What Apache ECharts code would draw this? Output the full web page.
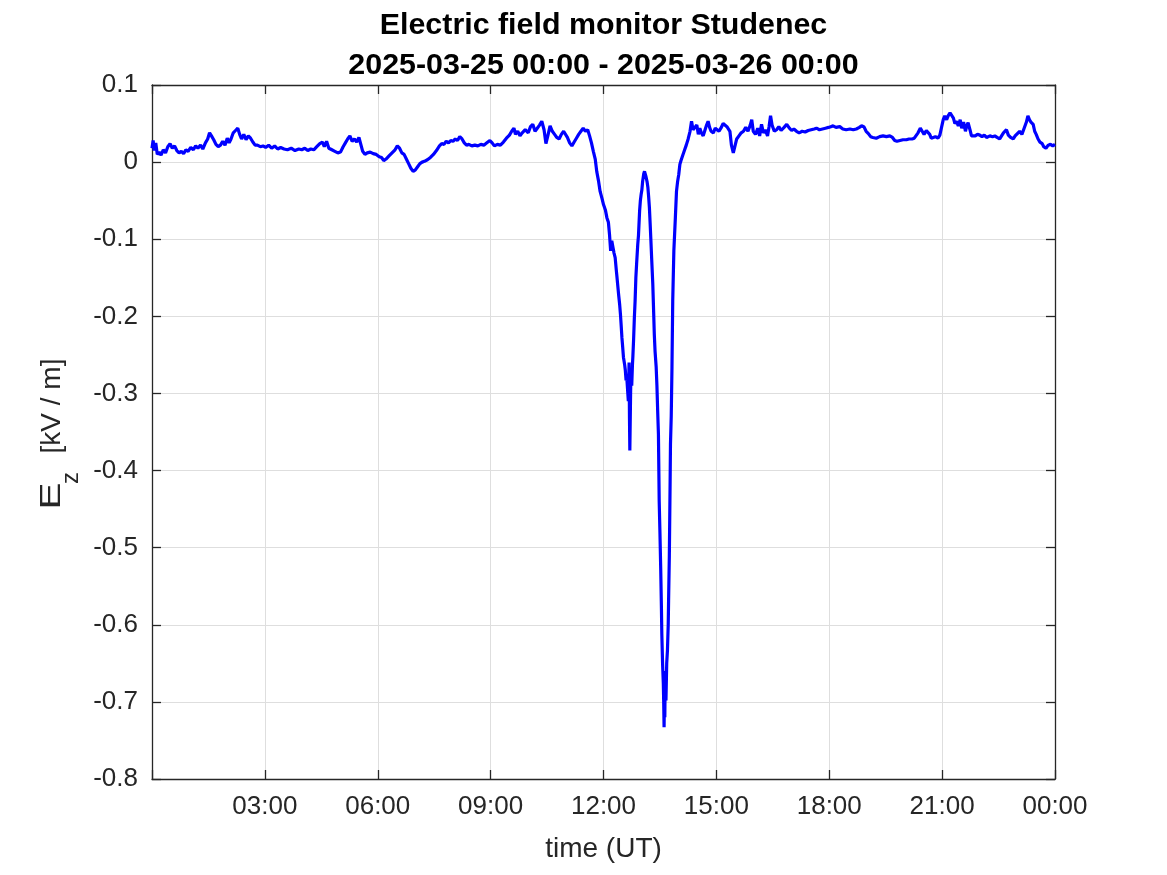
<!DOCTYPE html>
<html>
<head>
<meta charset="utf-8">
<script src="https://cdn.jsdelivr.net/npm/echarts@6/dist/echarts.min.js"></script>
<style>html,body{margin:0;padding:0;background:#fff}#c{width:1167px;height:875px}</style>
</head>
<body>
<div id="c"></div>
<script>
var titleLine1 = 'Electric field monitor Studenec';
var titleLine2 = '2025-03-25 00:00 - 2025-03-26 00:00';
var xLabel = 'time (UT)';
var xTickHours = [0, 3, 6, 9, 12, 15, 18, 21, 24];
var yTicks = [0.1, 0, -0.1, -0.2, -0.3, -0.4, -0.5, -0.6, -0.7, -0.8];

var hours = [
0.00,0.03,0.06,0.10,0.14,0.19,0.24,0.30,0.36,0.42,0.48,0.54,0.60,0.66,0.72,0.78,0.84,0.90,0.96,1.03,
1.10,1.16,1.22,1.29,1.35,1.42,1.48,1.53,1.58,1.64,1.70,1.76,1.82,1.88,1.94,2.00,2.05,2.10,2.16,2.22,
2.28,2.33,2.38,2.44,2.50,2.56,2.62,2.68,2.74,2.80,2.88,2.95,3.02,3.10,3.18,3.26,3.34,3.42,3.51,3.60,
3.70,3.80,3.90,3.98,4.06,4.14,4.22,4.30,4.38,4.46,4.53,4.58,4.64,4.70,4.78,4.86,4.94,5.01,5.08,5.14,
5.20,5.26,5.32,5.38,5.44,5.50,5.55,5.60,5.66,5.72,5.80,5.88,5.96,6.04,6.10,6.16,6.22,6.30,6.38,6.46,
6.52,6.58,6.64,6.70,6.76,6.82,6.88,6.94,7.00,7.06,7.12,7.18,7.24,7.32,7.40,7.48,7.56,7.64,7.70,7.76,
7.82,7.88,7.94,8.00,8.06,8.12,8.18,8.24,8.30,8.36,8.42,8.50,8.58,8.66,8.74,8.82,8.90,8.98,9.04,9.10,
9.18,9.26,9.34,9.42,9.50,9.56,9.62,9.66,9.72,9.78,9.84,9.92,10.00,10.06,10.12,10.18,10.24,10.30,10.36,10.42,
10.47,10.52,10.58,10.64,10.70,10.76,10.82,10.88,10.94,10.98,11.04,11.10,11.16,11.22,11.28,11.34,11.40,11.46,11.52,11.58,
11.63,11.68,11.73,11.78,11.82,11.87,11.91,11.96,12.00,12.05,12.09,12.13,12.16,12.19,12.22,12.25,12.28,12.31,12.34,12.36,
12.40,12.43,12.45,12.47,12.49,12.51,12.53,12.56,12.58,12.60,12.62,12.64,12.66,12.68,12.69,12.70,12.72,12.73,12.75,12.77,
12.78,12.80,12.82,12.84,12.86,12.88,12.91,12.93,12.96,12.98,13.00,13.02,13.04,13.07,13.09,13.11,13.13,13.16,13.18,13.20,
13.22,13.24,13.26,13.28,13.31,13.33,13.35,13.37,13.40,13.42,13.44,13.46,13.48,13.50,13.52,13.54,13.55,13.57,13.59,13.60,
13.61,13.62,13.63,13.64,13.66,13.68,13.70,13.72,13.73,13.75,13.77,13.78,13.80,13.82,13.84,13.87,13.91,13.94,13.97,14.00,
14.03,14.06,14.10,14.15,14.20,14.25,14.30,14.34,14.38,14.43,14.48,14.52,14.56,14.60,14.65,14.70,14.74,14.78,14.82,14.86,
14.92,14.97,15.02,15.07,15.12,15.18,15.23,15.28,15.32,15.36,15.40,15.45,15.50,15.54,15.60,15.66,15.72,15.78,15.84,15.90,
15.94,15.98,16.04,16.10,16.15,16.20,16.25,16.30,16.36,16.40,16.44,16.48,16.54,16.60,16.66,16.72,16.80,16.87,16.94,17.00,
17.06,17.13,17.20,17.28,17.36,17.44,17.52,17.60,17.66,17.74,17.82,17.90,17.98,18.04,18.10,18.18,18.28,18.36,18.45,18.55,
18.64,18.72,18.80,18.86,18.92,18.98,19.04,19.10,19.16,19.25,19.34,19.43,19.52,19.61,19.68,19.74,19.80,19.88,19.96,20.05,
20.12,20.20,20.26,20.31,20.36,20.42,20.47,20.52,20.58,20.62,20.67,20.71,20.76,20.82,20.89,20.94,20.98,21.03,21.07,21.12,
21.16,21.21,21.25,21.30,21.34,21.38,21.43,21.48,21.52,21.57,21.62,21.66,21.69,21.74,21.78,21.83,21.88,21.94,22.00,22.06,
22.12,22.18,22.27,22.34,22.40,22.46,22.53,22.58,22.63,22.68,22.71,22.76,22.82,22.89,22.94,23.00,23.06,23.12,23.18,23.24,
23.28,23.32,23.36,23.42,23.46,23.50,23.55,23.60,23.66,23.70,23.76,23.82,23.88,23.94,24.00
];
var ez = [
0.018,0.028,0.015,0.025,0.010,0.013,0.009,0.016,0.012,0.020,0.024,0.018,0.021,0.015,0.012,0.014,0.011,0.016,0.014,0.019,
0.016,0.021,0.018,0.022,0.017,0.025,0.030,0.038,0.034,0.029,0.023,0.020,0.022,0.027,0.022,0.031,0.025,0.030,0.038,0.041,
0.044,0.036,0.030,0.036,0.029,0.034,0.031,0.026,0.022,0.022,0.020,0.021,0.019,0.022,0.018,0.021,0.017,0.019,0.017,0.016,
0.018,0.015,0.017,0.016,0.018,0.015,0.017,0.016,0.020,0.024,0.026,0.020,0.027,0.018,0.016,0.014,0.012,0.013,0.020,0.025,
0.030,0.034,0.027,0.030,0.026,0.032,0.030,0.014,0.010,0.012,0.013,0.011,0.010,0.007,0.006,0.002,0.004,0.008,0.012,0.016,
0.021,0.018,0.012,0.010,0.004,-0.002,-0.008,-0.012,-0.010,-0.006,-0.002,0.000,0.001,0.003,0.006,0.010,0.015,0.021,0.024,0.023,
0.027,0.025,0.028,0.027,0.030,0.028,0.033,0.030,0.025,0.022,0.023,0.021,0.022,0.021,0.023,0.022,0.025,0.028,0.025,0.021,
0.023,0.022,0.026,0.031,0.035,0.040,0.044,0.036,0.040,0.034,0.038,0.042,0.038,0.046,0.049,0.040,0.044,0.048,0.053,0.042,
0.024,0.034,0.047,0.040,0.036,0.032,0.030,0.036,0.040,0.039,0.032,0.025,0.021,0.026,0.031,0.036,0.040,0.044,0.040,0.042,
0.034,0.025,0.014,0.004,-0.012,-0.025,-0.038,-0.047,-0.055,-0.062,-0.072,-0.078,-0.094,-0.115,-0.102,-0.110,-0.118,-0.124,-0.140,-0.150,
-0.171,-0.185,-0.197,-0.212,-0.228,-0.240,-0.253,-0.262,-0.270,-0.283,-0.280,-0.295,-0.310,-0.260,-0.330,-0.374,-0.300,-0.270,-0.290,-0.262,
-0.253,-0.230,-0.202,-0.180,-0.150,-0.132,-0.107,-0.095,-0.063,-0.050,-0.042,-0.036,-0.025,-0.015,-0.012,-0.014,-0.019,-0.026,-0.033,-0.045,
-0.059,-0.080,-0.102,-0.125,-0.158,-0.190,-0.223,-0.245,-0.266,-0.290,-0.323,-0.353,-0.439,-0.480,-0.526,-0.580,-0.612,-0.650,-0.676,-0.700,
-0.733,-0.690,-0.720,-0.660,-0.698,-0.650,-0.633,-0.600,-0.569,-0.510,-0.417,-0.366,-0.330,-0.266,-0.180,-0.115,-0.072,-0.038,-0.025,-0.016,
-0.003,0.002,0.008,0.015,0.022,0.030,0.040,0.053,0.042,0.040,0.048,0.036,0.044,0.038,0.034,0.042,0.048,0.053,0.045,0.040,
0.038,0.044,0.046,0.040,0.044,0.050,0.051,0.046,0.044,0.040,0.022,0.012,0.022,0.030,0.034,0.038,0.040,0.045,0.040,0.048,
0.055,0.040,0.036,0.044,0.034,0.049,0.038,0.042,0.034,0.046,0.060,0.048,0.040,0.042,0.046,0.041,0.045,0.049,0.044,0.041,
0.043,0.040,0.038,0.040,0.039,0.041,0.042,0.043,0.044,0.042,0.043,0.044,0.045,0.046,0.047,0.045,0.046,0.043,0.042,0.043,
0.042,0.043,0.045,0.047,0.046,0.040,0.037,0.033,0.032,0.031,0.033,0.034,0.033,0.034,0.032,0.028,0.027,0.028,0.029,0.029,
0.030,0.030,0.031,0.033,0.038,0.044,0.040,0.036,0.041,0.043,0.036,0.031,0.032,0.033,0.031,0.035,0.044,0.055,0.060,0.055,
0.060,0.064,0.062,0.057,0.050,0.053,0.047,0.055,0.044,0.052,0.040,0.048,0.051,0.042,0.034,0.036,0.034,0.036,0.035,0.033,
0.035,0.032,0.034,0.033,0.034,0.032,0.030,0.034,0.038,0.036,0.042,0.035,0.032,0.030,0.034,0.037,0.040,0.036,0.044,0.052,
0.060,0.055,0.052,0.049,0.040,0.036,0.030,0.026,0.024,0.020,0.018,0.022,0.023,0.021,0.023
];

var seriesData = hours.map(function (h, i) { return [h, ez[i]]; });

var FONT = '"Liberation Sans", Arial, Helvetica, sans-serif';
var AX = '#262626';
var GRIDC = '#dedede';

function xFmt(v) {
  if (v === 0) return '';
  var h = Math.round(v) % 24;
  return (h < 10 ? '0' : '') + h + ':00';
}
function yFmt(v) {
  var r = Math.round(v * 10) / 10;
  return r === 0 ? '0' : r.toFixed(1);
}

var chart = echarts.init(document.getElementById('c'), null, { renderer: 'canvas' });
var xMin = xTickHours[0], xMax = xTickHours[xTickHours.length - 1];
var yMin = yTicks[yTicks.length - 1], yMax = yTicks[0];

chart.setOption({
  animation: false,
  backgroundColor: '#ffffff',
  grid: { left: 152, right: 112, top: 85, bottom: 96, containLabel: false },
  xAxis: [
    {
      type: 'value', min: xMin, max: xMax, interval: 3, position: 'bottom',
      axisLine: { show: true, onZero: false, lineStyle: { color: AX, width: 1.3 } },
      axisTick: { show: true, inside: true, length: 9, lineStyle: { color: AX, width: 1.3 } },
      axisLabel: { formatter: xFmt, color: AX, fontSize: 26, fontFamily: FONT, margin: 15 },
      splitLine: { show: true, lineStyle: { color: GRIDC, width: 1 } },
      name: xLabel, nameLocation: 'middle', nameGap: 56,
      nameTextStyle: { color: AX, fontSize: 28, fontFamily: FONT }
    },
    {
      type: 'value', min: xMin, max: xMax, interval: 3, position: 'top',
      axisLine: { show: true, onZero: false, lineStyle: { color: AX, width: 1.3 } },
      axisTick: { show: true, inside: true, length: 9, lineStyle: { color: AX, width: 1.3 } },
      axisLabel: { show: false }, splitLine: { show: false }
    }
  ],
  yAxis: [
    {
      type: 'value', min: yMin, max: yMax, interval: 0.1, position: 'left',
      axisLine: { show: true, onZero: false, lineStyle: { color: AX, width: 1.3 } },
      axisTick: { show: true, inside: true, length: 9, lineStyle: { color: AX, width: 1.3 } },
      axisLabel: { formatter: yFmt, color: AX, fontSize: 26, fontFamily: FONT, margin: 14 },
      splitLine: { show: true, lineStyle: { color: GRIDC, width: 1 } }
    },
    {
      type: 'value', min: yMin, max: yMax, interval: 0.1, position: 'right',
      axisLine: { show: true, onZero: false, lineStyle: { color: AX, width: 1.3 } },
      axisTick: { show: true, inside: true, length: 9, lineStyle: { color: AX, width: 1.3 } },
      axisLabel: { show: false }, splitLine: { show: false }
    }
  ],
  series: [{
    type: 'line', xAxisIndex: 0, yAxisIndex: 0,
    data: seriesData, showSymbol: false, symbol: 'none',
    lineStyle: { color: '#0000ff', width: 3.2 },
    clip: true
  }],
  graphic: [
    { type: 'text', x: 603.5, y: 26, style: { text: titleLine1, fill: '#000', font: 'bold 30.4px ' + FONT, textAlign: 'center', textVerticalAlign: 'middle' } },
    { type: 'text', x: 603.5, y: 66, style: { text: titleLine2, fill: '#000', font: 'bold 30.4px ' + FONT, textAlign: 'center', textVerticalAlign: 'middle' } },
    { type: 'text', x: 52, y: 496, rotation: Math.PI / 2, scaleX: 1.4, style: { text: 'E', fill: AX, font: '29px ' + FONT, textAlign: 'center', textVerticalAlign: 'middle' } },
    { type: 'text', x: 71, y: 478, rotation: Math.PI / 2, style: { text: 'z', fill: AX, font: '24px ' + FONT, textAlign: 'center', textVerticalAlign: 'middle' } },
    { type: 'text', x: 52, y: 406, rotation: Math.PI / 2, style: { text: '[kV / m]', fill: AX, font: '28px ' + FONT, textAlign: 'center', textVerticalAlign: 'middle' } }
  ]
});
</script>
</body>
</html>
